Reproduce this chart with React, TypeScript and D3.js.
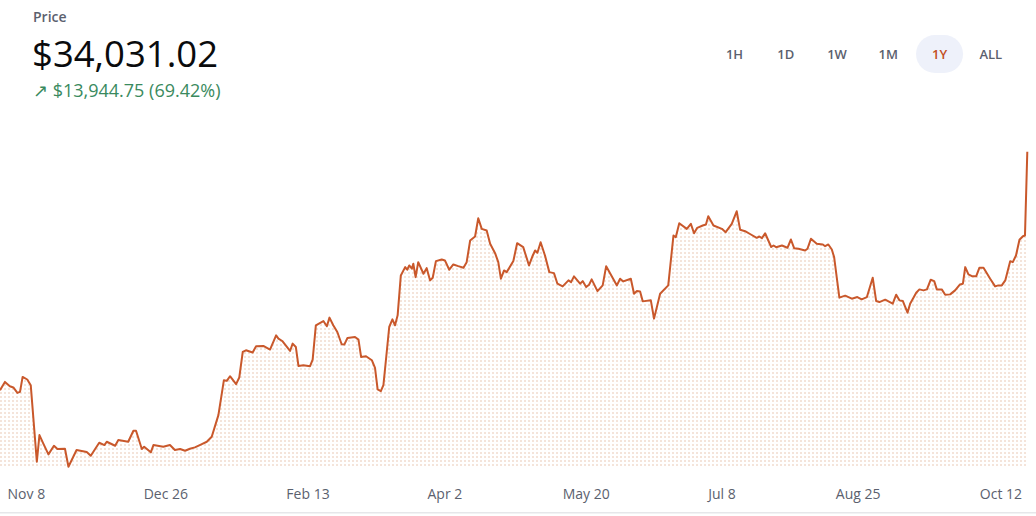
import React from "react";
import * as d3 from "d3";

// Days since the start of the 1Y window
const dayOffsets = [
  0.0, 1.7, 3.4, 4.6, 6.0, 6.9, 7.8, 9.4, 10.6, 12.7, 13.6, 14.9, 16.7, 18.6, 19.8, 22.4, 23.6, 26.4, 29.9, 31.3,
  34.2, 36.0, 36.8, 39.7, 40.8, 44.2, 46.0, 46.9, 48.9, 49.7, 52.0, 52.9, 56.3, 58.6, 60.3, 62.1, 63.8, 65.5, 67.2, 69.6,
  71.3, 73.0, 75.3, 77.2, 78.2, 79.3, 81.4, 82.5, 83.7, 84.8, 87.1, 88.3, 90.8, 93.1, 95.2, 96.0, 97.3, 100.0, 100.9, 102.0,
  102.9, 104.6, 106.9, 107.8, 108.9, 111.5, 112.7, 113.6, 114.9, 116.3, 117.8, 118.7, 119.8, 122.4, 123.6, 124.5, 126.2, 128.2, 129.3, 130.2,
  131.3, 132.2, 134.2, 135.3, 136.2, 137.1, 138.2, 139.7, 140.4, 141.1, 142.0, 142.5, 143.3, 144.2, 146.0, 147.1, 148.3, 149.2, 150.3, 152.3,
  153.4, 154.9, 156.3, 158.0, 159.8, 160.9, 162.1, 163.8, 164.9, 166.1, 167.8, 169.0, 170.7, 171.8, 172.7, 173.8, 174.7, 177.0, 178.3, 180.4,
  182.4, 183.7, 184.5, 185.3, 186.4, 187.9, 189.4, 191.0, 192.2, 194.0, 196.0, 196.9, 197.9, 200.0, 200.9, 202.1, 203.1, 204.0, 206.0, 207.8,
  209.0, 212.7, 213.8, 214.9, 217.5, 218.6, 219.6, 220.7, 221.6, 224.4, 225.5, 227.6, 230.4, 232.2, 233.0, 234.2, 236.8, 238.2, 239.3, 240.4,
  242.3, 243.4, 244.2, 246.0, 248.9, 250.2, 252.3, 254.0, 255.2, 256.9, 258.9, 260.9, 261.8, 262.7, 263.8, 265.9, 266.7, 267.6, 269.6, 271.5,
  272.7, 273.8, 275.3, 277.6, 278.4, 279.6, 281.6, 283.7, 284.5, 285.6, 286.8, 287.6, 289.4, 291.4, 293.7, 295.6, 297.1, 298.9, 300.9, 302.1,
  303.2, 305.2, 307.8, 309.0, 310.1, 311.3, 312.9, 313.8, 315.9, 317.0, 318.4, 319.6, 320.9, 322.1, 323.0, 324.7, 325.9, 327.6, 329.3, 331.0,
  332.0, 332.8, 333.9, 335.1, 336.6, 337.7, 339.1, 341.4, 343.1, 344.2, 345.4, 346.6, 348.3, 349.2, 350.3, 351.5, 352.7, 353.4, 354.2,
];

// Price in USD at each of those times
const prices = [
  20086.27, 20570, 20319, 20244, 19928, 19987, 20862, 20710, 20378, 15902, 17460, 16976, 16334, 16836, 16643, 16661, 15611, 16585, 16468, 16252,
  17011, 16877, 17069, 16836, 17168, 17069, 17711, 17711, 16643, 16778, 16451, 16877, 16778, 16877, 16585, 16643, 16544, 16661, 16743, 16935,
  17069, 17361, 18627, 20670, 20629, 20903, 20436, 20827, 22321, 22420, 22286, 22653, 22671, 22461, 23295, 23103, 22963, 22379, 22811, 22613,
  21504, 21545, 21486, 21877, 23879, 24130, 23820, 24328, 23879, 23488, 22770, 22752, 23138, 23196, 23044, 22029, 22070, 21837, 21387, 20127,
  20028, 20378, 23780, 24229, 23879, 24462, 26796, 27281, 27129, 27380, 27187, 27479, 26697, 27572, 26895, 27222, 26505, 26662, 27631, 27730,
  27672, 27129, 27438, 27339, 27246, 27572, 28839, 29072, 30140, 29521, 29422, 28646, 28098, 27572, 26604, 27088, 26989, 27642, 28681, 28448,
  27380, 27963, 28255, 28121, 28739, 27963, 26989, 26931, 26312, 26154, 26505, 26405, 26738, 26312, 26464, 26114, 26254, 26563, 25880, 26213,
  27339, 26213, 26604, 26446, 26604, 25728, 25880, 25863, 25279, 25338, 24270, 25728, 26213, 29130, 29031, 29848, 29521, 29813, 29264, 29580,
  29714, 29772, 30256, 29714, 29521, 29323, 29813, 30548, 29463, 29381, 29189, 28996, 29072, 28973, 29264, 28459, 28547, 28448, 28547, 28413,
  28897, 28389, 28354, 28255, 28354, 28938, 28646, 28605, 28506, 28605, 28313, 27864, 25495, 25612, 25437, 25530, 25396, 25530, 26662, 25297,
  25238, 25378, 25145, 25670, 25338, 25297, 24620, 25145, 25787, 25979, 25921, 25979, 26545, 26464, 25979, 25979, 25670, 25688, 25921, 26271,
  26312, 27281, 26855, 26755, 26755, 27246, 27246, 26604, 26154, 26213, 26213, 26505, 27631, 27572, 27963, 28879, 29089, 29130, 34031.02,
];

const tickLabels = ["Nov 8", "Dec 26", "Feb 13", "Apr 2", "May 20", "Jul 8", "Aug 25", "Oct 12"];
const tickDays = [9.1, 57.2, 106.2, 153.4, 202.1, 248.9, 295.9, 345.1];

const rangeButtons = ["1H", "1D", "1W", "1M", "1Y", "ALL"];
const activeRange = "1Y";

const W = 1036;
const H = 516;
const FONT = "'Open Sans', 'Noto Sans', sans-serif";
const LINE = "#c9582b";
const GREY = "#5b616e";

export default function App() {
  const data = dayOffsets.map((d, i) => ({ d, p: prices[i] }));
  const x = d3.scaleLinear().domain(d3.extent(dayOffsets) as [number, number]).range([0, 1027.3]);
  const y = d3.scaleLinear().domain(d3.extent(prices) as [number, number]).range([466.7, 151.7]);
  const baseY = 468;

  const line = d3
    .line<{ d: number; p: number }>()
    .x((v) => x(v.d))
    .y((v) => y(v.p));
  const area = d3
    .area<{ d: number; p: number }>()
    .x((v) => x(v.d))
    .y0(baseY)
    .y1((v) => y(v.p));

  const first = prices[0];
  const last = prices[prices.length - 1];
  const diff = last - first;
  const pct = (diff / first) * 100;
  const fmt = d3.format(",.2f");

  const bx = d3.scalePoint<string>().domain(rangeButtons).range([734.5, 990.8]);

  return (
    <svg
      width={W}
      height={H}
      style={{ position: "absolute", left: 0, top: 0, background: "#fff" }}
      fontFamily={FONT}
    >
      <defs>
        <pattern id="dots" width={4} height={4} patternUnits="userSpaceOnUse">
          <rect x={0} y={0} width={2} height={2} fill="#f4e4da" />
        </pattern>
      </defs>
      <rect x={0} y={0} width={W} height={H} fill="#fff" />

      <text x={33} y={22} fontSize={14} fontWeight={600} fill={GREY}>
        Price
      </text>
      <text x={32} y={67} fontSize={36.5} fill="#0a0b0d">
        ${fmt(last)}
      </text>
      <text x={33} y={97} fontSize={18} fill="#3a8a5e">
        {`↗ $${fmt(diff)} (${pct.toFixed(2)}%)`}
      </text>

      {rangeButtons.map((b) => (
        <g key={b}>
          {b === activeRange && (
            <rect x={(bx(b) as number) - 23.5} y={35} width={47} height={38} rx={19} fill="#eef1fa" />
          )}
          <text
            x={bx(b)}
            y={59}
            textAnchor="middle"
            fontSize={13}
            fontWeight={600}
            fill={b === activeRange ? "#c24e23" : GREY}
          >
            {b}
          </text>
        </g>
      ))}

      <path d={area(data) ?? ""} fill="url(#dots)" />
      <path d={line(data) ?? ""} fill="none" stroke={LINE} strokeWidth={2} strokeLinejoin="round" />

      {tickLabels.map((t, i) => (
        <text key={t} x={x(tickDays[i])} y={499} textAnchor="middle" fontSize={14} fill={GREY}>
          {t}
        </text>
      ))}

      <rect x={0} y={512} width={W} height={1.5} fill="#e6e7ea" />
    </svg>
  );
}
